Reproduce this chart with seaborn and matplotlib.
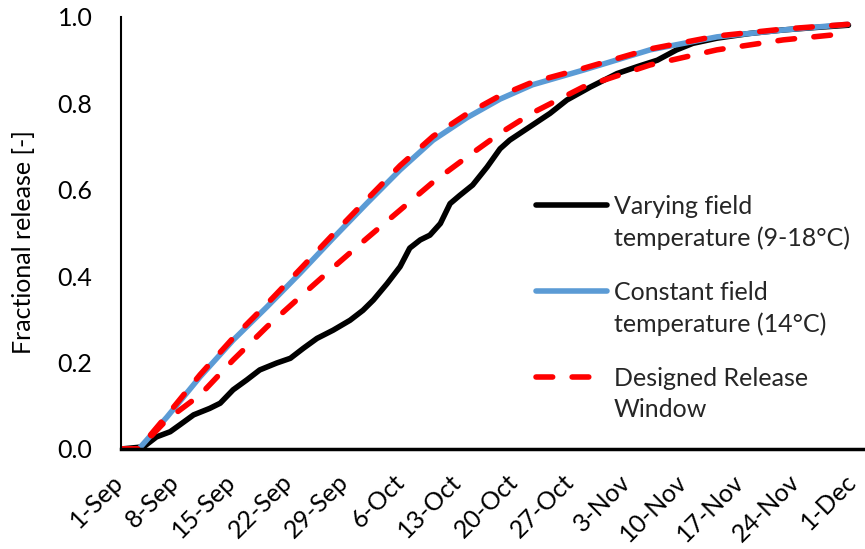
import numpy as np
import pandas as pd
import matplotlib
matplotlib.use("Agg")
import matplotlib.pyplot as plt
import seaborn as sns
from matplotlib.legend_handler import HandlerLine2D
from matplotlib.transforms import ScaledTranslation

# ---- data (days since 1-Sep) ----
tick_days = [0, 7, 14, 21, 28, 35, 42, 49, 56, 63, 70, 77, 84, 91]
tick_labels = ["1-Sep", "8-Sep", "15-Sep", "22-Sep", "29-Sep", "6-Oct", "13-Oct",
               "20-Oct", "27-Oct", "3-Nov", "10-Nov", "17-Nov", "24-Nov", "1-Dec"]

black_days = [0, 2.8, 4.4, 6.1, 7.3, 9.0, 11.0, 12.3, 13.9, 15.6, 17.2, 19.3, 21.0,
              22.6, 24.3, 26.3, 28.4, 30.0, 31.3, 33.0, 34.6, 35.8, 37.1, 38.3, 39.6,
              40.8, 42.0, 43.6, 45.4, 47.0, 48.2, 50.7, 53.2, 55.3, 58.2, 61.5, 64.0,
              66.5, 68.9, 70.9, 73.9, 78.0, 82.1, 86.3, 90.2]
black_vals = [0, 0.005, 0.028, 0.040, 0.056, 0.079, 0.094, 0.106, 0.137, 0.160, 0.183,
              0.199, 0.210, 0.233, 0.256, 0.275, 0.298, 0.321, 0.345, 0.383, 0.422,
              0.465, 0.484, 0.495, 0.522, 0.568, 0.587, 0.611, 0.653, 0.695, 0.715,
              0.746, 0.777, 0.808, 0.838, 0.869, 0.885, 0.900, 0.924, 0.939, 0.951,
              0.962, 0.970, 0.976, 0.981]

smooth_days = [0, 2.2, 5.7, 9.8, 13.9, 18.1, 22.2, 26.3, 30.5, 34.6, 38.7, 42.9, 47.0,
               51.0, 57.3, 65.6, 73.9, 82.1, 90.1]
blue_vals = [0, 0, 0.074, 0.167, 0.252, 0.329, 0.407, 0.488, 0.569, 0.646, 0.715, 0.767,
             0.810, 0.843, 0.877, 0.924, 0.954, 0.970, 0.983]
red_upper = [0, 0, 0.078, 0.172, 0.257, 0.336, 0.416, 0.497, 0.578, 0.656, 0.724, 0.776,
             0.818, 0.849, 0.881, 0.926, 0.956, 0.972, 0.983]
red_lower = [0, 0, 0.068, 0.125, 0.206, 0.283, 0.352, 0.420, 0.488, 0.553, 0.618, 0.676,
             0.731, 0.778, 0.838, 0.889, 0.924, 0.947, 0.962]

labels = ["Varying field\ntemperature (9-18°C)",
          "Constant field\ntemperature (14°C)",
          "Designed Release\nWindow"]


class RaisedLineHandler(HandlerLine2D):
    def __init__(self, dy=0.0, **kw):
        super().__init__(**kw)
        self.dy = dy

    def create_artists(self, legend, orig_handle, xdescent, ydescent, width, height,
                       fontsize, trans):
        arts = super().create_artists(legend, orig_handle, xdescent, ydescent, width,
                                      height, fontsize, trans)
        for a in arts:
            a.set_ydata(np.asarray(a.get_ydata(), dtype=float) + self.dy)
        return arts


sns.set_theme(style="white")
plt.rcParams["font.family"] = ["Lato", "DejaVu Sans"]
FS = 18

fig = plt.figure(figsize=(8.65, 5.49), dpi=100)
ax = fig.add_axes([121 / 865, 1 - 449 / 549, 742 / 865, 432 / 549])

df_b = pd.DataFrame({"day": black_days, "v": black_vals})
df_s = pd.DataFrame({"day": smooth_days, "blue": blue_vals, "up": red_upper, "lo": red_lower})

lw = 4.0
sns.lineplot(data=df_b, x="day", y="v", ax=ax, color="black", lw=lw, label=labels[0],
             solid_capstyle="round", solid_joinstyle="round")
sns.lineplot(data=df_s, x="day", y="blue", ax=ax, color="#5B9BD5", lw=lw, label=labels[1],
             solid_capstyle="round")
sns.lineplot(data=df_s, x="day", y="up", ax=ax, color="#FF0000", lw=lw, label=labels[2])
sns.lineplot(data=df_s, x="day", y="lo", ax=ax, color="#FF0000", lw=lw, label="_nolegend_")
for ln in ax.lines[2:4]:
    ln.set_linestyle((0, (3.0, 3.5)))
    ln.set_dash_capstyle("round")

ax.set_xlim(0, 92)
ax.set_ylim(0, 1.0)
ax.tick_params(axis="both", length=0)
ax.tick_params(axis="x", pad=21)
ax.tick_params(axis="y", pad=20.5)
ax.set_xticks(tick_days)
ax.set_xticklabels(tick_labels, rotation=45, ha="right", va="center",
                   rotation_mode="anchor", fontsize=FS, color="black")
shift = ScaledTranslation(-2 / 100, 0, fig.dpi_scale_trans)
for t in ax.get_xticklabels():
    t.set_transform(t.get_transform() + shift)
ax.set_yticks([0, 0.2, 0.4, 0.6, 0.8, 1.0])
ax.set_yticklabels(["0.0", "0.2", "0.4", "0.6", "0.8", "1.0"], fontsize=FS, color="black")
ax.set_xlabel("")
ax.set_ylabel("Fractional release [-]", fontsize=FS, color="black")
ax.yaxis.set_label_coords((35 - 121) / 742, (449 - 242) / 432)

for s in ["top", "right"]:
    ax.spines[s].set_visible(False)
ax.spines["left"].set_color("black")
ax.spines["left"].set_linewidth(1.5)
ax.spines["bottom"].set_color("black")
ax.spines["bottom"].set_linewidth(2.5)
ax.spines["bottom"].set_zorder(5)

handles, lbls = ax.get_legend_handles_labels()
hmap = {h: RaisedLineHandler(dy=13) for h in handles}
leg = ax.legend(handles, lbls, loc="upper left", handler_map=hmap,
                bbox_to_anchor=(536 / 865, 1 - 195 / 549), bbox_transform=fig.transFigure,
                frameon=False, fontsize=FS, handlelength=2.85, handletextpad=0.25,
                borderpad=0, borderaxespad=0, labelspacing=1.22)
for t in leg.get_texts():
    t.set_linespacing(1.45)

fig.savefig("out.png", dpi=100)
